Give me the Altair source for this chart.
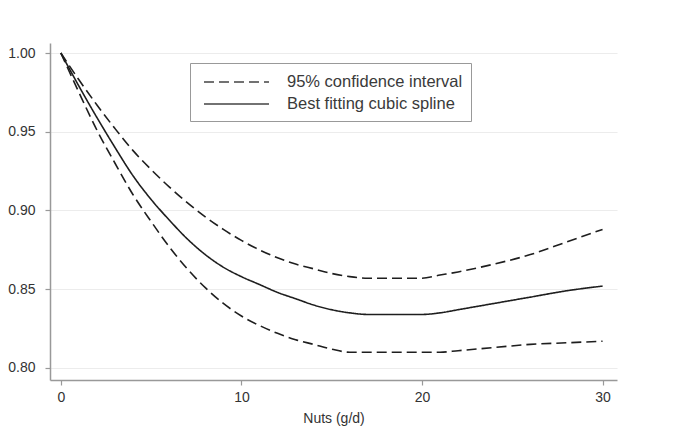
import altair as alt
import pandas as pd

# Data
nuts = [0, 1, 2, 3, 4, 5, 6, 7, 8, 9, 10, 11, 12, 13, 14, 15, 16, 17, 18, 20, 21, 22, 24, 26, 28, 30]
upper = [1.000, 0.983, 0.967, 0.952, 0.938, 0.926, 0.915, 0.905, 0.896, 0.888, 0.881, 0.875, 0.870,
         0.866, 0.863, 0.860, 0.858, 0.857, 0.857, 0.857, 0.859, 0.861, 0.866, 0.872, 0.880, 0.888]
spline = [1.000, 0.979, 0.959, 0.940, 0.922, 0.907, 0.894, 0.882, 0.872, 0.864, 0.858, 0.853, 0.848,
          0.844, 0.840, 0.837, 0.835, 0.834, 0.834, 0.834, 0.835, 0.837, 0.841, 0.845, 0.849, 0.852]
lower = [1.000, 0.975, 0.951, 0.930, 0.910, 0.893, 0.877, 0.863, 0.851, 0.841, 0.833, 0.827, 0.822,
         0.818, 0.815, 0.812, 0.810, 0.810, 0.810, 0.810, 0.810, 0.811, 0.813, 0.815, 0.816, 0.817]

series_labels = ["95% confidence interval", "Best fitting cubic spline"]
x_ticks = [0, 10, 20, 30]
y_ticks = [0.80, 0.85, 0.90, 0.95, 1.00]
x_title = "Nuts (g/d)"

rows = []
for curve, vals, label in [("upper", upper, series_labels[0]),
                           ("spline", spline, series_labels[1]),
                           ("lower", lower, series_labels[0])]:
    for xv, yv in zip(nuts, vals):
        rows.append({"x": xv, "value": yv, "curve": curve, "series": label})
df = pd.DataFrame(rows)

FONT = "Liberation Sans"
TXT = "#333333"

chart = alt.Chart(df).mark_line(color="#1e1e1e", strokeWidth=1.6, interpolate="monotone").encode(
    x=alt.X("x:Q",
            scale=alt.Scale(domain=[-0.6, 30.8], nice=False, zero=False),
            axis=alt.Axis(values=x_ticks, title=x_title, grid=False, format="d",
                          labelFont=FONT, labelFontSize=14, labelColor=TXT,
                          titleFont=FONT, titleFontSize=14, titleColor=TXT, titleFontWeight="normal",
                          titlePadding=7, tickSize=5, labelPadding=5,
                          domainColor="#999999", domainWidth=1.5, tickColor="#999999", tickWidth=1.2)),
    y=alt.Y("value:Q",
            scale=alt.Scale(domain=[0.79238, 1.00635], nice=False, zero=False),
            axis=alt.Axis(values=y_ticks, format=".2f", title=None, grid=True,
                          gridColor="#ececec", gridWidth=1.2,
                          labelFont=FONT, labelFontSize=14, labelColor=TXT,
                          tickSize=5, labelPadding=10,
                          domainColor="#999999", domainWidth=1.5, tickColor="#999999", tickWidth=1.2)),
    strokeDash=alt.StrokeDash("series:N",
                              scale=alt.Scale(domain=series_labels, range=[[10, 5], [1, 0]]),
                              legend=alt.Legend(title=None, orient="none", legendX=140, legendY=20,
                                                symbolType="M-0.5,0H6", symbolSize=400,
                                                symbolStrokeWidth=1.6, symbolStrokeColor="#444444",
                                                symbolFillColor="transparent",
                                                labelFont=FONT, labelFontSize=16.5, labelColor="#3a3a3a",
                                                labelLimit=400, labelOffset=67, padding=8,
                                                rowPadding=2,
                                                strokeColor="#999999", fillColor="white")),
    detail="curve:N",
    order="x:Q",
).properties(
    width=567, height=337,
    padding={"left": 42, "top": 35, "right": 47, "bottom": 60},
    autosize=alt.AutoSizeParams(type="none"),
    background="white",
).configure_view(stroke=None)

chart.save("out.html", embed_options={"renderer": "svg", "actions": False})
